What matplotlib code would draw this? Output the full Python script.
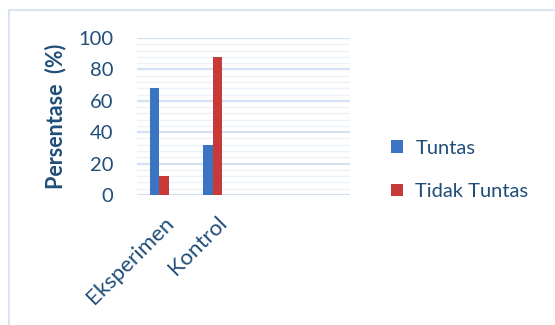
import matplotlib
matplotlib.use("Agg")
import matplotlib.pyplot as plt
import numpy as np
from matplotlib.lines import Line2D

plt.rcParams['font.family'] = ['Lato', 'DejaVu Sans']

kategori = ['Eksperimen', 'Kontrol']
tuntas = [68, 32]
tidak_tuntas = [12, 88]
yticks = [0, 20, 40, 60, 80, 100]
n_slot = 4  # Excel leaves room for 4 categories

teks = '#1F4E79'
biru = '#3A74C2'
merah = '#C83A37'

fig = plt.figure(figsize=(5.55, 3.25), dpi=100)
ax = fig.add_axes([137/555, 1 - 195/325, 213/555, 157/325])

x = np.arange(len(kategori))
w = 0.18
b1 = ax.bar(x - 0.17, tuntas, w, color=biru, label='Tuntas', zorder=3)
b2 = ax.bar(x + 0.01, tidak_tuntas, w, color=merah, label='Tidak Tuntas', zorder=3)

ax.set_xlim(-0.5, n_slot - 0.5)
ax.set_ylim(0, 100)
ax.set_yticks(yticks)
ax.set_yticks(np.arange(0, 101, 4), minor=True)
ax.grid(axis='y', which='major', color='#D3E1F2', linewidth=1.6, zorder=0)
ax.grid(axis='y', which='minor', color='#EDF2F9', linewidth=1.0, zorder=0)
for s in ax.spines.values():
    s.set_visible(False)
ax.tick_params(axis='both', which='both', length=0, colors=teks)
ax.tick_params(axis='y', pad=17, labelsize=14.5)
ax.set_xticks(x)
ax.set_xticklabels(kategori, rotation=45, ha='right', rotation_mode='anchor',
                   color=teks, fontsize=16)
ax.tick_params(axis='x', pad=13)

ax.set_ylabel('Persentase  (%)', fontsize=15.5, fontweight='bold', color=teks)
ax.yaxis.set_label_coords(-0.33, 0.5)

fig.legend(handles=[b1, b2], loc='center left', bbox_to_anchor=(373/555, 1 - 170/325),
           frameon=False, fontsize=14.5, labelcolor=teks, handlelength=0.6,
           handleheight=0.6, handletextpad=0.6, labelspacing=1.3)

# chart area border
fig.add_artist(Line2D([9/555, 1], [1 - 10/325, 1 - 10/325], color='#D9E5F4', lw=1.5))
fig.add_artist(Line2D([9/555, 9/555], [0, 1 - 10/325], color='#D9E5F4', lw=1.5))

plt.savefig('out.png', dpi=100)
